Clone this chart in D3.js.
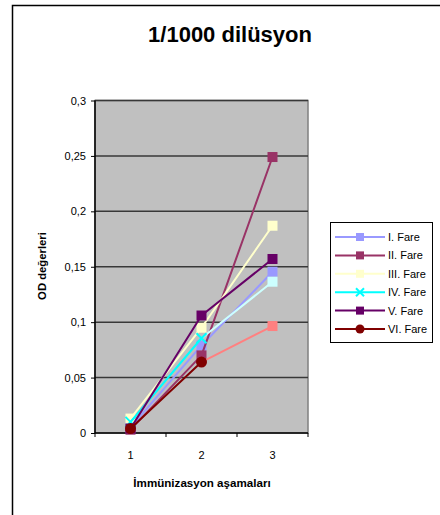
<!DOCTYPE html>
<html>
<head>
<meta charset="utf-8">
<script src="https://cdn.jsdelivr.net/npm/d3@7"></script>
<style>
  html, body { margin: 0; padding: 0; background: #fff; }
  svg { display: block; font-family: "Liberation Sans", Arial, sans-serif; }
</style>
</head>
<body>
<svg id="chart" width="440" height="515"></svg>
<script>
// Immunisation stages on the x axis
const categories = ["1", "2", "3"];
const yTicks = [0, 0.05, 0.1, 0.15, 0.2, 0.25, 0.3];
const yTickLabels = ["0", "0,05", "0,1", "0,15", "0,2", "0,25", "0,3"];

// OD readings per mouse at 1/1000 dilution
const fare1 = [0.005, 0.079, 0.1455];
const fare2 = [0.003, 0.070, 0.249];
const fare3 = [0.013, 0.095, 0.187];
const fare4 = [0.010, 0.0855, 0.1365];
const fare5 = [0.004, 0.106, 0.157];
const fare6 = [0.004, 0.064, 0.0965];

const seriesNames = ["I. Fare", "II. Fare", "III. Fare", "IV. Fare", "V. Fare", "VI. Fare"];
const seriesValues = [fare1, fare2, fare3, fare4, fare5, fare6];
const seriesColors = ["#9999FF", "#993366", "#FFFFCC", "#00FFFF", "#660066", "#800000"];
const seriesMarkers = ["square", "square", "square", "x", "square", "circle"];

// third-stage points of IV and VI carry their own formatting
const pointOverrides = [
  { series: 3, point: 2, color: "#CCFFFF", marker: "square" },
  { series: 5, point: 2, color: "#FF8080", marker: "square" }
];

const svg = d3.select("#chart");

// outer chart frame (only the left and top edges fall inside the view)
svg.append("path")
  .attr("d", "M12.5,515 V5.5 H440")
  .attr("fill", "none").attr("stroke", "#000").attr("stroke-width", 1.5);

const plot = { left: 95, right: 308, top: 100.5, bottom: 433 };

const x = d3.scaleBand().domain(categories).range([plot.left, plot.right]).padding(0);
const y = d3.scaleLinear().domain([0, 0.3]).range([plot.bottom, plot.top]);

// plot area
svg.append("rect")
  .attr("x", plot.left).attr("y", plot.top)
  .attr("width", plot.right - plot.left).attr("height", plot.bottom - plot.top)
  .attr("fill", "#C0C0C0").attr("stroke", "#808080").attr("stroke-width", 1.5);

// gridlines
svg.append("g")
  .selectAll("line").data(yTicks.slice(1))
  .join("line")
  .attr("x1", plot.left).attr("x2", plot.right)
  .attr("y1", d => y(d)).attr("y2", d => y(d))
  .attr("stroke", "#383838").attr("stroke-width", 1.5);

// y axis
const yAxis = d3.axisLeft(y).tickValues(yTicks)
  .tickFormat((d, i) => yTickLabels[i]).tickSize(4).tickPadding(5);
const gy = svg.append("g").attr("transform", `translate(${plot.left},0)`).call(yAxis);
gy.select(".domain").attr("stroke", "#000").attr("stroke-width", 1.5).attr("d", `M0,${plot.top}V${plot.bottom}`);
gy.selectAll(".tick line").attr("stroke", "#000");
gy.selectAll(".tick text").attr("font-size", 11).attr("fill", "#000");

// x axis with ticks between categories
const gx = svg.append("g").attr("transform", `translate(0,${plot.bottom})`);
gx.append("line").attr("x1", plot.left).attr("x2", plot.right)
  .attr("stroke", "#000").attr("stroke-width", 1.5);
const bounds = categories.map(c => x(c)).concat([x(categories[categories.length - 1]) + x.bandwidth()]);
gx.selectAll("line.tk").data(bounds).join("line").attr("class", "tk")
  .attr("x1", d => d).attr("x2", d => d).attr("y1", 0).attr("y2", 4)
  .attr("stroke", "#000");
gx.selectAll("text").data(categories).join("text")
  .attr("x", d => x(d) + x.bandwidth() / 2).attr("y", 26)
  .attr("text-anchor", "middle").attr("font-size", 11).text(d => d);

// titles
svg.append("text").attr("x", 230).attr("y", 42).attr("text-anchor", "middle")
  .attr("font-size", 22).attr("font-weight", "bold").text("1/1000 dilüsyon");
svg.append("text").attr("x", 202).attr("y", 487).attr("text-anchor", "middle")
  .attr("font-size", 11.6).attr("font-weight", "bold").text("İmmünizasyon aşamaları");
svg.append("text").attr("transform", "translate(46,266) rotate(-90)")
  .attr("text-anchor", "middle").attr("font-size", 11.3).attr("font-weight", "bold").text("OD değerleri");

const cx = (i) => x(categories[i]) + x.bandwidth() / 2;

function drawMarker(g, type, color, px, py, s) {
  if (type === "square") {
    g.append("rect").attr("x", px - s / 2).attr("y", py - s / 2)
      .attr("width", s).attr("height", s).attr("fill", color);
  } else if (type === "circle") {
    g.append("circle").attr("cx", px).attr("cy", py).attr("r", s / 2 + 0.5).attr("fill", color);
  } else if (type === "x") {
    const h = s / 2;
    g.append("path").attr("d", `M${px - h},${py - h}L${px + h},${py + h}M${px - h},${py + h}L${px + h},${py - h}`)
      .attr("stroke", color).attr("stroke-width", 2).attr("fill", "none");
  }
}

function pointStyle(si, pi) {
  const o = pointOverrides.find(p => p.series === si && p.point === pi);
  return o ? { color: o.color, marker: o.marker } : { color: seriesColors[si], marker: seriesMarkers[si] };
}

// series: each segment takes the colour of the point it runs into
seriesValues.forEach((vals, si) => {
  const g = svg.append("g");
  const segs = d3.pairs(vals.map((v, i) => ({ i, v })));
  g.selectAll("line").data(segs).join("line")
    .attr("x1", d => cx(d[0].i)).attr("y1", d => y(d[0].v))
    .attr("x2", d => cx(d[1].i)).attr("y2", d => y(d[1].v))
    .attr("stroke", d => pointStyle(si, d[1].i).color)
    .attr("stroke-width", 2).attr("stroke-linecap", "round");
  vals.forEach((v, i) => {
    const st = pointStyle(si, i);
    drawMarker(g, st.marker, st.color, cx(i), y(v), 10);
  });
});

// legend
const lg = svg.append("g");
const legend = { left: 330, top: 222, width: 102, height: 120, row: 18.4 };
lg.append("rect").attr("x", legend.left + 0.5).attr("y", legend.top + 0.5)
  .attr("width", legend.width).attr("height", legend.height)
  .attr("fill", "#fff").attr("stroke", "#000");
seriesNames.forEach((name, i) => {
  const ry = legend.top + 15 + i * legend.row;
  lg.append("line").attr("x1", legend.left + 5).attr("x2", legend.left + 55)
    .attr("y1", ry).attr("y2", ry).attr("stroke", seriesColors[i]).attr("stroke-width", 2);
  drawMarker(lg, seriesMarkers[i], seriesColors[i], legend.left + 30, ry, 8);
  lg.append("text").attr("x", legend.left + 58).attr("y", ry + 4)
    .attr("font-size", 11).text(name);
});
</script>
</body>
</html>
